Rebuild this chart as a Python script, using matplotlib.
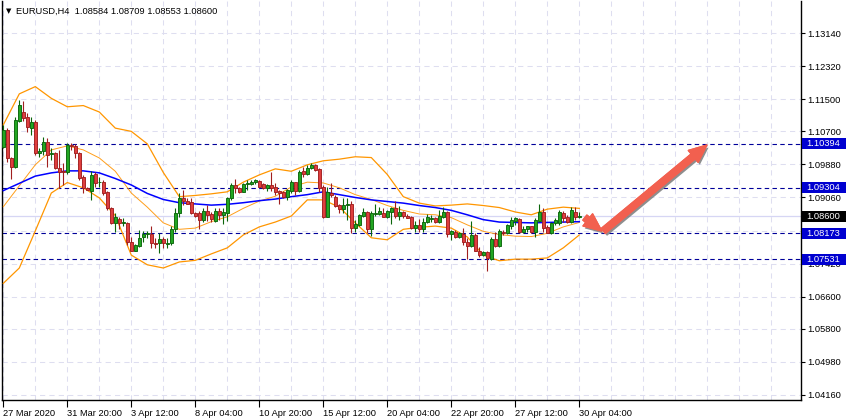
import matplotlib
matplotlib.use('Agg')
import matplotlib.pyplot as plt
from matplotlib.patches import Rectangle, FancyArrowPatch
from matplotlib import patheffects
import matplotlib.transforms as mtransforms

plt.rcParams['font.family'] = ['Liberation Sans Narrow', 'Liberation Sans', 'DejaVu Sans']

# ---------------- data (EURUSD, H4) ----------------
opens = [1.1030, 1.1073, 1.1003, 1.0982, 1.1096, 1.1119, 1.1106, 1.1079, 1.1094, 1.1016,
         1.1021, 1.1043, 1.1013, 1.1016, 1.0978, 1.0972, 1.0968, 1.1036, 1.1034, 1.1016,
         1.0958, 1.0929, 1.0922, 1.0963, 1.0944, 1.0944, 1.0920, 1.0879, 1.0842, 1.0852,
         1.0843, 1.0842, 1.0796, 1.0774, 1.0786, 1.0809, 1.0815, 1.0815, 1.0794, 1.0792,
         1.0803, 1.0791, 1.0792, 1.0828, 1.0867, 1.0904, 1.0897, 1.0894, 1.0867, 1.0867,
         1.0850, 1.0872, 1.0865, 1.0848, 1.0872, 1.0863, 1.0868, 1.0904, 1.0937, 1.0930,
         1.0920, 1.0939, 1.0940, 1.0944, 1.0948, 1.0939, 1.0929, 1.0937, 1.0933, 1.0922,
         1.0919, 1.0908, 1.0922, 1.0944, 1.0922, 1.0972, 1.0963, 1.0978, 1.0987, 1.0976,
         1.0931, 1.0858, 1.0918, 1.0908, 1.0887, 1.0877, 1.0887, 1.0891, 1.0831, 1.0838,
         1.0861, 1.0871, 1.0829, 1.0864, 1.0866, 1.0868, 1.0858, 1.0871, 1.0879, 1.0861,
         1.0869, 1.0861, 1.0858, 1.0831, 1.0838, 1.0829, 1.0844, 1.0853, 1.0856, 1.0846,
         1.0858, 1.0871, 1.0815, 1.0821, 1.0809, 1.0815, 1.0796, 1.0786, 1.0813, 1.0774,
         1.0763, 1.0770, 1.0753, 1.0803, 1.0786, 1.0821, 1.0817, 1.0836, 1.0848, 1.0852,
         1.0821, 1.0827, 1.0834, 1.0821, 1.0848, 1.0871, 1.0832, 1.0817, 1.0842, 1.0842,
         1.0868, 1.0858, 1.0844, 1.0871, 1.08584]
highs = [1.1087, 1.1078, 1.1007, 1.1106, 1.1148, 1.1145, 1.1115, 1.1106, 1.1098, 1.1028,
         1.1057, 1.1054, 1.1028, 1.1020, 1.1024, 1.0991, 1.1040, 1.1040, 1.1038, 1.1020,
         1.0962, 1.0933, 1.0972, 1.0968, 1.0958, 1.0949, 1.0922, 1.0883, 1.0867, 1.0858,
         1.0856, 1.0846, 1.0809, 1.0790, 1.0825, 1.0824, 1.0823, 1.0834, 1.0805, 1.0817,
         1.0809, 1.0805, 1.0834, 1.0879, 1.0916, 1.0925, 1.0904, 1.0904, 1.0871, 1.0872,
         1.0879, 1.0887, 1.0869, 1.0879, 1.0881, 1.0879, 1.0908, 1.0941, 1.0951, 1.0933,
         1.0941, 1.0949, 1.0949, 1.0953, 1.0949, 1.0941, 1.0939, 1.0968, 1.0941, 1.0925,
         1.0922, 1.0927, 1.0949, 1.0945, 1.0974, 1.0982, 1.0987, 1.0991, 1.0988, 1.0978,
         1.0937, 1.0933, 1.0941, 1.0912, 1.0891, 1.0904, 1.0904, 1.0896, 1.0850, 1.0864,
         1.0879, 1.0872, 1.0872, 1.0891, 1.0883, 1.0879, 1.0875, 1.0883, 1.0897, 1.0886,
         1.0872, 1.0864, 1.0861, 1.0848, 1.0853, 1.0856, 1.0864, 1.0863, 1.0858, 1.0875,
         1.0883, 1.0872, 1.0825, 1.0825, 1.0821, 1.0831, 1.0805, 1.0848, 1.0817, 1.0784,
         1.0773, 1.0772, 1.0809, 1.0821, 1.0828, 1.0825, 1.0839, 1.0858, 1.0858, 1.0856,
         1.0835, 1.0836, 1.0836, 1.0854, 1.0891, 1.0879, 1.0838, 1.0844, 1.0854, 1.0875,
         1.0872, 1.0863, 1.0883, 1.0883, 1.08709]
lows = [1.1028, 1.0993, 1.0953, 1.0980, 1.1094, 1.1096, 1.1069, 1.1061, 1.1011, 1.1007,
        1.1011, 1.0982, 1.0999, 1.0977, 1.0929, 1.0937, 1.0963, 1.1024, 1.1005, 1.0949,
        1.0916, 1.0924, 1.0900, 1.0933, 1.0933, 1.0912, 1.0875, 1.0839, 1.0821, 1.0829,
        1.0834, 1.0788, 1.0772, 1.0772, 1.0784, 1.0796, 1.0805, 1.0780, 1.0780, 1.0767,
        1.0780, 1.0780, 1.0788, 1.0821, 1.0858, 1.0887, 1.0889, 1.0866, 1.0858, 1.0829,
        1.0846, 1.0848, 1.0846, 1.0846, 1.0850, 1.0839, 1.0848, 1.0900, 1.0916, 1.0916,
        1.0919, 1.0925, 1.0937, 1.0939, 1.0931, 1.0927, 1.0922, 1.0922, 1.0912, 1.0891,
        1.0904, 1.0900, 1.0916, 1.0912, 1.0920, 1.0958, 1.0962, 1.0977, 1.0972, 1.0920,
        1.0856, 1.0857, 1.0908, 1.0883, 1.0867, 1.0867, 1.0850, 1.0817, 1.0821, 1.0834,
        1.0858, 1.0817, 1.0811, 1.0861, 1.0863, 1.0857, 1.0856, 1.0839, 1.0856, 1.0850,
        1.0854, 1.0854, 1.0828, 1.0820, 1.0821, 1.0821, 1.0842, 1.0844, 1.0842, 1.0843,
        1.0856, 1.0809, 1.0800, 1.0806, 1.0805, 1.0788, 1.0753, 1.0784, 1.0772, 1.0759,
        1.0762, 1.0724, 1.0751, 1.0782, 1.0784, 1.0813, 1.0815, 1.0829, 1.0838, 1.0817,
        1.0817, 1.0821, 1.0817, 1.0809, 1.0846, 1.0821, 1.0817, 1.0815, 1.0838, 1.0838,
        1.0844, 1.0842, 1.0842, 1.0850, 1.08553]
closes = [1.1073, 1.1003, 1.0982, 1.1098, 1.1135, 1.1102, 1.1082, 1.1092, 1.1016, 1.1021,
          1.1044, 1.1011, 1.1017, 1.0978, 1.0970, 1.0970, 1.1036, 1.1034, 1.1016, 1.0955,
          1.0929, 1.0925, 1.0962, 1.0941, 1.0945, 1.0916, 1.0879, 1.0842, 1.0857, 1.0842,
          1.0846, 1.0796, 1.0774, 1.0788, 1.0806, 1.0815, 1.0819, 1.0792, 1.0791, 1.0803,
          1.0792, 1.0793, 1.0828, 1.0867, 1.0904, 1.0896, 1.0891, 1.0867, 1.0861, 1.0850,
          1.0872, 1.0863, 1.0852, 1.0872, 1.0863, 1.0869, 1.0904, 1.0937, 1.0929, 1.0919,
          1.0939, 1.0943, 1.0945, 1.0949, 1.0933, 1.0929, 1.0937, 1.0930, 1.0920, 1.0916,
          1.0908, 1.0925, 1.0944, 1.0922, 1.0970, 1.0963, 1.0980, 1.0987, 1.0974, 1.0930,
          1.0857, 1.0920, 1.0912, 1.0886, 1.0877, 1.0887, 1.0891, 1.0831, 1.0839, 1.0863,
          1.0871, 1.0829, 1.0867, 1.0868, 1.0872, 1.0858, 1.0872, 1.0879, 1.0861, 1.0871,
          1.0861, 1.0856, 1.0831, 1.0838, 1.0828, 1.0846, 1.0858, 1.0856, 1.0844, 1.0860,
          1.0871, 1.0815, 1.0823, 1.0809, 1.0817, 1.0795, 1.0786, 1.0813, 1.0774, 1.0763,
          1.0770, 1.0755, 1.0803, 1.0786, 1.0823, 1.0817, 1.0838, 1.0850, 1.0854, 1.0821,
          1.0829, 1.0834, 1.0821, 1.0850, 1.0871, 1.0831, 1.0819, 1.0842, 1.0850, 1.0869,
          1.0854, 1.0844, 1.0875, 1.0857, 1.08600]

# indicator values read every 4 bars (bar 0, 4, ..., 144)
ind_step = 4
ma_blue = [1.0923, 1.0941, 1.0959, 1.0967, 1.0972, 1.0972, 1.0967, 1.0953, 1.0937, 1.0916,
           1.0901, 1.0893, 1.0890, 1.0887, 1.0889, 1.0893, 1.0898, 1.0902, 1.0908, 1.0913,
           1.0920, 1.0913, 1.0906, 1.0900, 1.0896, 1.0892, 1.0886, 1.0881, 1.0874, 1.0863,
           1.0851, 1.0845, 1.0844, 1.0843, 1.0844, 1.0845, 1.0846]
bb_upper = [1.1086, 1.1163, 1.1181, 1.1152, 1.1131, 1.1134, 1.1118, 1.1078, 1.1070, 1.1039,
            1.0968, 1.0908, 1.0911, 1.0915, 1.0920, 1.0944, 1.0962, 1.0977, 1.0971, 1.0987,
            1.0997, 1.1001, 1.1007, 1.1005, 1.0963, 1.0908, 1.0892, 1.0885, 1.0887, 1.0890,
            1.0886, 1.0881, 1.0870, 1.0863, 1.0877, 1.0882, 1.0879]
bb_middle = [1.0883, 1.0935, 1.0987, 1.1024, 1.1034, 1.1024, 1.1004, 1.0971, 1.0917, 1.0882,
             1.0843, 1.0827, 1.0830, 1.0846, 1.0858, 1.0879, 1.0897, 1.0909, 1.0932, 1.0944,
             1.0942, 1.0930, 1.0913, 1.0901, 1.0886, 1.0874, 1.0865, 1.0863, 1.0856, 1.0838,
             1.0822, 1.0814, 1.0810, 1.0809, 1.0817, 1.0833, 1.0844]
bb_lower = [1.0693, 1.0731, 1.0823, 1.0917, 1.0943, 1.0930, 1.0905, 1.0861, 1.0763, 1.0739,
            1.0731, 1.0746, 1.0750, 1.0766, 1.0781, 1.0813, 1.0833, 1.0845, 1.0860, 1.0900,
            1.0900, 1.0882, 1.0843, 1.0806, 1.0801, 1.0827, 1.0832, 1.0835, 1.0830, 1.0808,
            1.0763, 1.0749, 1.0753, 1.0753, 1.0756, 1.0781, 1.0813]

time_labels = ["27 Mar 2020", "31 Mar 20:00", "3 Apr 12:00", "8 Apr 04:00", "10 Apr 20:00",
               "15 Apr 12:00", "20 Apr 04:00", "22 Apr 20:00", "27 Apr 12:00", "30 Apr 04:00"]
label_step = 16
grid_step = 8
price_ticks = [1.13140, 1.12320, 1.11500, 1.10700, 1.09880, 1.09060, 1.08240,
               1.07420, 1.06600, 1.05800, 1.04980, 1.04160]
hidden_ticks = [1.08240]          # fully covered by a level box in the reference
levels = [1.10394, 1.09304, 1.08173, 1.07531]
last_price = 1.08600
title = "EURUSD,H4  1.08584 1.08709 1.08553 1.08600"

# arrows drawn on the chart: (bar, price) start -> end
arrow_start = [(145.4, 1.0856), (150.0, 1.0823)]
arrow_end = [(149.6, 1.0823), (175.9, 1.1036)]

# ---------------- figure ----------------
W, H = 846, 419
FS = 6.7
fig = plt.figure(figsize=(W / 100, H / 100), dpi=100)
fig.patch.set_facecolor('white')
ax = fig.add_axes([1.5 / W, 19.5 / H, 799 / W, 398.5 / H])
ax.set_facecolor('white')
ax.set_xlim(-0.45, 199.3)
ax.set_ylim(1.04048, 1.13934)

grid_c = '#dedef0'
for v in price_ticks:
    ax.axhline(v, color=grid_c, lw=0.75, ls=(0, (5, 4)), zorder=0)
for b in range(0, 200, grid_step):
    ax.axvline(b, color=grid_c, lw=0.75, ls=(0, (5, 4)), zorder=0)

ax.axhline(last_price, color='#d6d6f4', lw=0.9, zorder=1)
for lv in levels:
    ax.axhline(lv, color='#00009a', lw=0.8, ls=(0, (4, 3)), zorder=2)

# indicators
ind_x = list(range(0, len(opens), ind_step))
ax.plot(ind_x, bb_upper, color='#ff9600', lw=0.9, zorder=3)
ax.plot(ind_x, bb_middle, color='#ff9e1a', lw=0.7, zorder=3)
ax.plot(ind_x, bb_lower, color='#ff9600', lw=0.9, zorder=3)
ax.plot(ind_x, ma_blue, color='#0000ff', lw=1.1, zorder=3)

# candles
bull_fill, bull_edge = '#22a622', '#0b660b'
bear_fill, bear_edge = '#de3e3e', '#a01e1e'
xs = list(range(len(opens)))
wick_cols = [bull_edge if c >= o else bear_edge for o, c in zip(opens, closes)]
ax.vlines(xs, lows, highs, colors=wick_cols, lw=0.8, zorder=4)
for i, (o, c) in enumerate(zip(opens, closes)):
    up = c >= o
    ax.bar(i, c - o, bottom=o, width=0.62,
           color=bull_fill if up else bear_fill,
           edgecolor=bull_edge if up else bear_edge, lw=0.65, zorder=5)

# arrows
for a, b in zip(arrow_start, arrow_end):
    arr = FancyArrowPatch(a, b, arrowstyle='simple,head_length=0.75,head_width=0.65,tail_width=0.27',
                          mutation_scale=17, color='#f2604f', shrinkA=0, shrinkB=0,
                          zorder=6, clip_on=False,
                          path_effects=[patheffects.withSimplePatchShadow(offset=(1.2, -1.8),
                                                                          shadow_rgbFace='#7a7a7a',
                                                                          alpha=0.85),
                                        patheffects.Normal()])
    ax.add_patch(arr)

# axes styling
for s in ax.spines.values():
    s.set_color('black')
    s.set_linewidth(1.0)
ax.spines['top'].set_visible(False)

ax.yaxis.tick_right()
ax.set_yticks(price_ticks)
ax.set_yticklabels(['' if v in hidden_ticks else f'{v:.5f}' for v in price_ticks])
ax.tick_params(axis='y', length=3, width=0.8, pad=2, labelsize=FS, colors='black', direction='out')

ax.set_xticks(list(range(0, len(time_labels) * label_step, label_step)))
ax.set_xticklabels(time_labels)
for lbl in ax.get_xticklabels():
    lbl.set_horizontalalignment('left')
ax.tick_params(axis='x', length=5, width=0.8, pad=1.5, labelsize=FS, colors='black', direction='out')

# price level boxes on the right scale
trans = mtransforms.blended_transform_factory(fig.transFigure, ax.transData)
px_price = (1.13934 - 1.04048) / 398.5
box_h = 11 * px_price
for lv in levels:
    fig.add_artist(Rectangle((802 / W, lv - box_h / 2), 44 / W, box_h, transform=trans,
                             facecolor='#0000d0', edgecolor='none', zorder=2))
    fig.text(806 / W, lv, f'{lv:.5f}', transform=trans, color='white', fontsize=FS,
             va='center', ha='left', zorder=3)
fig.add_artist(Rectangle((802 / W, last_price - box_h / 2), 44 / W, box_h, transform=trans,
                         facecolor='black', edgecolor='none', zorder=2))
fig.text(806 / W, last_price, f'{last_price:.5f}', transform=trans, color='white', fontsize=FS,
         va='center', ha='left', zorder=3)

# title
fig.text(6 / W, 1 - 11 / H, '\u25bc', fontsize=5, va='center', ha='left', family='DejaVu Sans')
fig.text(16 / W, 1 - 11 / H, title, fontsize=FS, va='center', ha='left', color='black')

fig.savefig('out.png', dpi=100, facecolor='white')
